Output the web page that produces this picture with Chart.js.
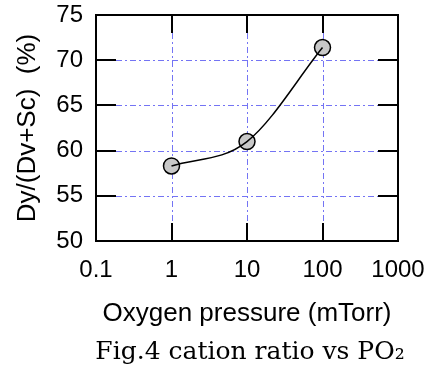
<!DOCTYPE html>
<html><head><meta charset="utf-8">
<script src="https://cdn.jsdelivr.net/npm/chart.js@4/dist/chart.umd.min.js"></script>
<style>html,body{margin:0;padding:0;background:#fff}#wrap{width:431px;height:370px;position:relative}</style>
</head><body><div id="wrap"><canvas id="c"></canvas></div>
<script>
const pressures = [1, 10, 100];
const cationRatio = [58.3, 61.0, 71.4];
const xTickValues = [0.1, 1, 10, 100, 1000];
const xTickLabels = ['0.1', '1', '10', '100', '1000'];
const yTickValues = [50, 55, 60, 65, 70, 75];
const xTitle = 'Oxygen pressure (mTorr)';
const yTitle = 'Dy/(Dv+Sc)  (%)';
const caption = 'Fig.4 cation ratio vs PO\u2082';

const points = pressures.map((p, i) => ({x: p, y: cationRatio[i]}));

const framePlugin = {
  id: 'frame',
  beforeDatasetsDraw(chart) {
    const {ctx, chartArea: a, scales: {x, y}} = chart;
    ctx.save();
    ctx.strokeStyle = '#7474f4';
    ctx.lineWidth = 1;
    ctx.setLineDash([6, 3, 2, 3]);
    xTickValues.slice(1, -1).forEach(v => {
      const px = Math.round(x.getPixelForValue(v)) + 0.5;
      ctx.beginPath(); ctx.moveTo(px, a.top + 18); ctx.lineTo(px, a.bottom - 18); ctx.stroke();
    });
    yTickValues.slice(1, -1).forEach(v => {
      const py = Math.round(y.getPixelForValue(v)) + 0.5;
      ctx.beginPath(); ctx.moveTo(a.left + 20, py); ctx.lineTo(a.right - 20, py); ctx.stroke();
    });
    ctx.restore();
  },
  afterDatasetsDraw(chart) {
    const {ctx, chartArea: a, scales: {x, y}} = chart;
    ctx.save();
    ctx.strokeStyle = '#000';
    ctx.lineWidth = 2;
    ctx.setLineDash([]);
    ctx.strokeRect(a.left, a.top, a.right - a.left, a.bottom - a.top);
    xTickValues.slice(1, -1).forEach(v => {
      const px = Math.round(x.getPixelForValue(v));
      ctx.beginPath(); ctx.moveTo(px, a.bottom); ctx.lineTo(px, a.bottom - 18); ctx.stroke();
      ctx.beginPath(); ctx.moveTo(px, a.top); ctx.lineTo(px, a.top + 18); ctx.stroke();
    });
    yTickValues.slice(1, -1).forEach(v => {
      const py = Math.round(y.getPixelForValue(v));
      ctx.beginPath(); ctx.moveTo(a.left, py); ctx.lineTo(a.left + 20, py); ctx.stroke();
      ctx.beginPath(); ctx.moveTo(a.right, py); ctx.lineTo(a.right - 20, py); ctx.stroke();
    });
    ctx.restore();
  },
  afterDraw(chart) {
    const {ctx, chartArea: a} = chart;
    ctx.save();
    ctx.fillStyle = '#000';
    ctx.font = '25px "DejaVu Serif"';
    ctx.textAlign = 'center';
    ctx.textBaseline = 'middle';
    ctx.fillText(caption, (a.left + a.right) / 2 + 3, 352);
    ctx.restore();
  }
};

new Chart(document.getElementById('c'), {
  type: 'scatter',
  data: {
    datasets: [
      {
        data: points,
        showLine: true,
        cubicInterpolationMode: 'monotone',
        borderColor: '#000',
        borderWidth: 1.5,
        pointRadius: 0,
        pointHoverRadius: 0,
        order: 1
      },
      {
        data: points,
        showLine: false,
        pointRadius: 8,
        pointHoverRadius: 8,
        pointBackgroundColor: '#c8c8c8',
        pointBorderColor: '#000',
        pointBorderWidth: 1.5,
        order: 2
      }
    ]
  },
  options: {
    responsive: true,
    maintainAspectRatio: false,
    animation: false,
    events: [],
    layout: {padding: {left: 0, right: 33, top: 15, bottom: 39}},
    plugins: {legend: {display: false}, tooltip: {enabled: false}, title: {display: false}},
    scales: {
      x: {
        type: 'logarithmic',
        min: 0.1, max: 1000,
        position: 'bottom',
        afterBuildTicks: s => { s.ticks = xTickValues.map(v => ({value: v})); },
        afterFit: s => { s.height = 90; s.paddingLeft = 0; s.paddingRight = 0; },
        ticks: {
          callback: (v, i) => xTickLabels[i],
          autoSkip: false, maxRotation: 0, minRotation: 0,
          padding: 15, color: '#000',
          font: {family: 'Liberation Sans', size: 24}
        },
        grid: {display: false, drawTicks: false},
        border: {display: false},
        title: {display: true, text: xTitle, color: '#000',
          font: {family: 'Liberation Sans', size: 26}, padding: {top: 0, bottom: 2}}
      },
      y: {
        min: 50, max: 75,
        afterBuildTicks: s => { s.ticks = yTickValues.map(v => ({value: v})); },
        afterFit: s => { s.width = 96; s.paddingTop = 0; s.paddingBottom = 0; },
        ticks: {padding: 13, color: '#000', font: {family: 'Liberation Sans', size: 24}},
        grid: {display: false, drawTicks: false},
        border: {display: false},
        title: {display: true, text: yTitle, color: '#000',
          font: {family: 'Liberation Sans', size: 26}, padding: {top: 12, bottom: 0}}
      }
    }
  },
  plugins: [framePlugin]
});
</script></body></html>
